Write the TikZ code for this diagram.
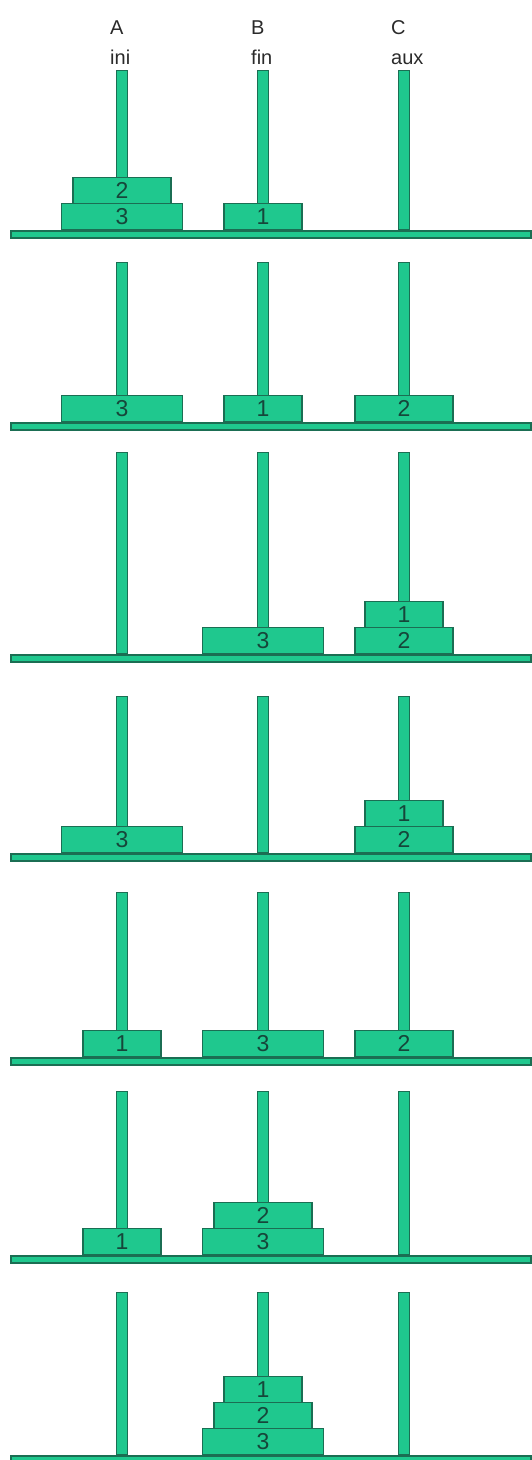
\documentclass[tikz,border=0pt]{standalone}
\usepackage{fontspec}
\setmainfont{Liberation Sans}
\definecolor{discfill}{HTML}{1FC88E}
\definecolor{discline}{HTML}{1B6E53}
\definecolor{digitcol}{HTML}{16463A}
\definecolor{lblcol}{HTML}{2A2A2A}
\tikzset{
  disc/.style={draw=discline, fill=discfill, line width=1.3pt, inner sep=0pt,
    minimum height=26pt, anchor=south, font=\fontsize{23}{23}\selectfont, text=digitcol},
  d1/.style={minimum width=78pt},
  d2/.style={minimum width=98pt},
  d3/.style={minimum width=121pt},
  pole/.style={draw=discline, fill=discfill, line width=1.3pt, inner sep=0pt,
    minimum width=11pt, anchor=south},
  base/.style={draw=discline, fill=discfill, line width=1.5pt, inner sep=0pt,
    minimum width=520pt, minimum height=7pt, anchor=north west},
  lbl/.style={font=\fontsize{20}{22}\selectfont, text=lblcol, inner sep=0pt, anchor=base west}
}
% panel: #1 index, #2 baseline y, #3 pole top y
\newcommand\tpanel[3]{%
  \foreach \px/\pn in {122/A,263/B,404/C}{%
    \node[pole, minimum height={(#2-#3)*1pt}] (pole#1\pn) at (\px,#2) {};
  }%
  \node[base] (base#1) at (10,#2) {};
}
% disc: #1 name, #2 x, #3 baseline y, #4 level (0 = bottom), #5 size
\newcommand\tdisc[5]{%
  \node[disc, d#5] (#1) at (#2,#3-#4*26) {#5};
}
\begin{document}
\begin{tikzpicture}[x=1pt,y=-1pt]
\useasboundingbox (0,0) rectangle (531,1460);
% labels
\node[lbl] (lA) at (110,34) {A};
\node[lbl] (lini) at (110,64) {ini};
\node[lbl] (lB) at (251,34) {B};
\node[lbl] (lfin) at (251,64) {fin};
\node[lbl] (lC) at (391,34) {C};
\node[lbl] (laux) at (391,64) {aux};
% panel 1
\tpanel{1}{230}{71}
\tdisc{p1a3}{122}{230}{0}{3}
\tdisc{p1a2}{122}{230}{1}{2}
\tdisc{p1b1}{263}{230}{0}{1}
% panel 2
\tpanel{2}{422}{263}
\tdisc{p2a3}{122}{422}{0}{3}
\tdisc{p2b1}{263}{422}{0}{1}
\tdisc{p2c2}{404}{422}{0}{2}
% panel 3
\tpanel{3}{654}{453}
\tdisc{p3b3}{263}{654}{0}{3}
\tdisc{p3c2}{404}{654}{0}{2}
\tdisc{p3c1}{404}{654}{1}{1}
% panel 4
\tpanel{4}{853}{697}
\tdisc{p4a3}{122}{853}{0}{3}
\tdisc{p4c2}{404}{853}{0}{2}
\tdisc{p4c1}{404}{853}{1}{1}
% panel 5
\tpanel{5}{1057}{893}
\tdisc{p5a1}{122}{1057}{0}{1}
\tdisc{p5b3}{263}{1057}{0}{3}
\tdisc{p5c2}{404}{1057}{0}{2}
% panel 6
\tpanel{6}{1255}{1092}
\tdisc{p6a1}{122}{1255}{0}{1}
\tdisc{p6b3}{263}{1255}{0}{3}
\tdisc{p6b2}{263}{1255}{1}{2}
% panel 7
\tpanel{7}{1455}{1293}
\tdisc{p7b3}{263}{1455}{0}{3}
\tdisc{p7b2}{263}{1455}{1}{2}
\tdisc{p7b1}{263}{1455}{2}{1}
\end{tikzpicture}
\end{document}
